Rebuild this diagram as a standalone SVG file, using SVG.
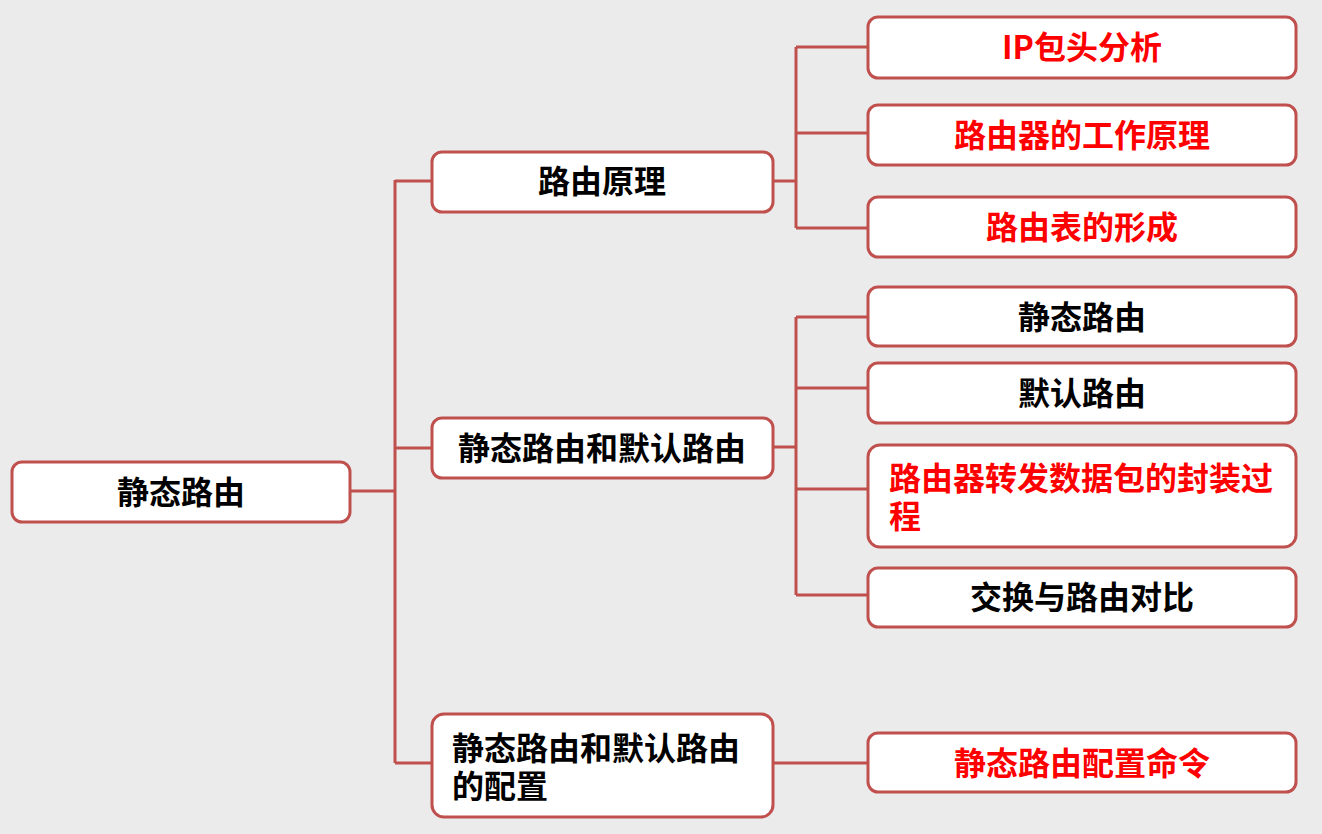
<svg xmlns="http://www.w3.org/2000/svg" width="1322" height="834" viewBox="0 0 1322 834">
<style>
.box{fill:#ffffff;stroke:#c0504d;stroke-width:3}
.t{font-family:"Noto Sans CJK SC","Noto Sans",sans-serif;font-weight:bold;font-size:32px;fill:#000}
.c{text-anchor:middle}
.r{fill:#ff0000}
.ln{fill:none;stroke:#c0504d;stroke-width:3}
</style>
<rect width="1322" height="834" fill="#ebebeb"/>
<g id="connectors">
<path class="ln" d="M350 491H395M395 180V763M395 181H432M395 448H432M395 763H432"/>
<path class="ln" d="M773 181H796M796 47V228M796 47H868M796 133H868M796 228H868"/>
<path class="ln" d="M773 447H796M796 317V595M796 317H868M796 388H868M796 489H868M796 595H868"/>
<path class="ln" d="M773 763H868"/>
</g>
<g id="root"><rect class="box" x="12" y="462" width="338" height="60" rx="10"/><text class="t c" x="181" y="504">静态路由</text></g>
<g id="n-principle"><rect class="box" x="432" y="152" width="341" height="60" rx="10"/><text class="t c" x="602" y="193">路由原理</text></g>
<g id="n-static-default"><rect class="box" x="432" y="418" width="341" height="60" rx="10"/><text class="t c" x="602" y="460">静态路由和默认路由</text></g>
<g id="n-config"><rect class="box" x="432" y="714" width="341" height="103" rx="12"/><text class="t"><tspan x="452" y="760">静态路由和默认路由</tspan><tspan x="452" y="798">的配置</tspan></text></g>
<g id="n-ip"><rect class="box" x="868" y="17" width="428" height="61" rx="10"/><text class="t c r" x="1082" y="59">IP包头分析</text></g>
<g id="n-router-work"><rect class="box" x="868" y="105" width="428" height="60" rx="10"/><text class="t c r" x="1082" y="147">路由器的工作原理</text></g>
<g id="n-table"><rect class="box" x="868" y="197" width="428" height="60" rx="10"/><text class="t c r" x="1082" y="239">路由表的形成</text></g>
<g id="n-static"><rect class="box" x="868" y="287" width="428" height="59" rx="10"/><text class="t c" x="1082" y="329">静态路由</text></g>
<g id="n-default"><rect class="box" x="868" y="363" width="428" height="60" rx="10"/><text class="t c" x="1082" y="405">默认路由</text></g>
<g id="n-encap"><rect class="box" x="868" y="445" width="428" height="102" rx="12"/><text class="t r"><tspan x="889" y="490">路由器转发数据包的封装过</tspan><tspan x="889" y="528">程</tspan></text></g>
<g id="n-compare"><rect class="box" x="868" y="568" width="428" height="59" rx="10"/><text class="t c" x="1082" y="609">交换与路由对比</text></g>
<g id="n-cmd"><rect class="box" x="868" y="733" width="428" height="59" rx="10"/><text class="t c r" x="1082" y="775">静态路由配置命令</text></g>
</svg>
